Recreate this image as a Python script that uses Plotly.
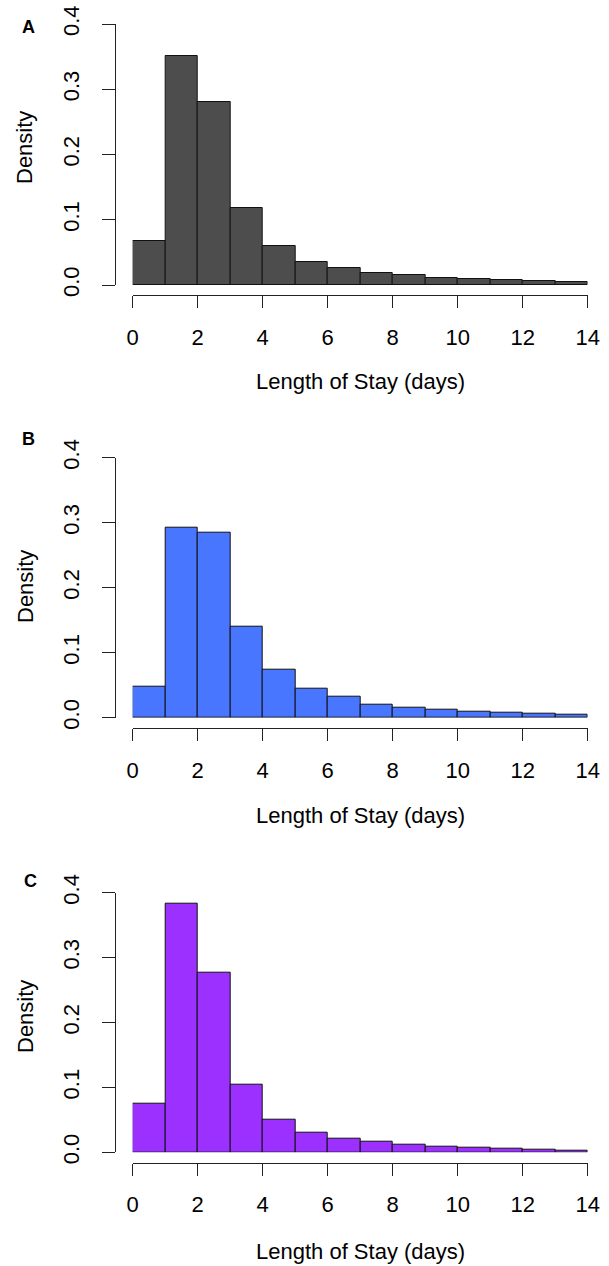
import plotly.graph_objects as go

# ---- data (density per 1-day bin, Length of Stay 0..14 days) ----
bin_edges = list(range(0, 15))
density_a = [0.067, 0.351, 0.280, 0.118, 0.060, 0.036, 0.0255, 0.019, 0.0148, 0.0112, 0.0092, 0.0072, 0.0056, 0.0046]
density_b = [0.047, 0.293, 0.284, 0.140, 0.0734, 0.0452, 0.0318, 0.0206, 0.016, 0.0123, 0.0098, 0.0072, 0.0057, 0.0046]
density_c = [0.0755, 0.383, 0.2763, 0.1037, 0.0508, 0.0297, 0.0205, 0.0159, 0.0117, 0.0092, 0.0077, 0.0056, 0.0046, 0.0031]
panel_labels = ["A", "B", "C"]
x_ticks = [0, 2, 4, 6, 8, 10, 12, 14]
y_ticks = [0.0, 0.1, 0.2, 0.3, 0.4]
x_title = "Length of Stay (days)"
y_title = "Density"
colors = ["#4D4D4D", "#4876FF", "#9B30FF"]

W, H = 609, 1266
FONT = "Liberation Sans, Arial, sans-serif"
AXC = "#222222"

# layout geometry in pixels (per panel): y pixel of 0.0, y pixel of 0.4, x-axis line y
panels_px = [
    dict(y0=285.0, y4=24.0, xline=295.4, dens_y=148, xt_y=382, lab=(28, 27)),
    dict(y0=717.7, y4=457.7, xline=728.1, dens_y=587, xt_y=815, lab=(28, 439)),
    dict(y0=1152.3, y4=892.7, xline=1162.7, dens_y=1017, xt_y=1251, lab=(30, 881)),
]
x_left_px, x_right_px = 132.7, 587.7   # pixel of x=0 and x=14
yaxis_x_px = 114.5


def fx(px):
    return px / W


def fy(py):
    return 1 - py / H


fig = go.Figure()
mids = [(bin_edges[i] + bin_edges[i + 1]) / 2 for i in range(len(bin_edges) - 1)]
widths = [bin_edges[i + 1] - bin_edges[i] for i in range(len(bin_edges) - 1)]
all_dens = [density_a, density_b, density_c]

annotations = []
for i, (dens, col, geo) in enumerate(zip(all_dens, colors, panels_px)):
    k = "" if i == 0 else str(i + 1)
    fig.add_trace(go.Bar(
        x=mids, y=dens, width=widths,
        marker=dict(color=col, line=dict(color="#111111", width=1)),
        xaxis="x" + k, yaxis="y" + k, showlegend=False, cliponaxis=False,
        hoverinfo="skip",
    ))
    fig.update_layout(**{
        "xaxis" + k: dict(
            domain=[fx(x_left_px), fx(x_right_px)], range=[bin_edges[0], bin_edges[-1]],
            anchor="free", position=fy(geo["xline"]), automargin=False,
            showline=True, linecolor=AXC, linewidth=1,
            ticks="outside", ticklen=12, tickwidth=1, tickcolor=AXC,
            tickvals=x_ticks, ticktext=[str(t) for t in x_ticks],
            tickfont=dict(family=FONT, size=22, color="black"),
            ticklabelstandoff=10,
            showgrid=False, zeroline=False, fixedrange=True,
        ),
        "yaxis" + k: dict(
            domain=[fy(geo["y0"]), fy(geo["y4"])], range=[y_ticks[0], y_ticks[-1]],
            anchor="free", position=fx(yaxis_x_px), automargin=False,
            showline=True, linecolor=AXC, linewidth=1,
            ticks="outside", ticklen=13, tickwidth=1, tickcolor=AXC,
            tickvals=y_ticks, ticktext=[f"{t:.1f}" for t in y_ticks],
            tickangle=-90,
            tickfont=dict(family=FONT, size=22, color="black"),
            ticklabelstandoff=14,
            showgrid=False, zeroline=False, fixedrange=True,
        ),
    })
    annotations.append(dict(
        text=y_title, x=fx(25), y=fy(geo["dens_y"]), xref="paper", yref="paper",
        textangle=-90, showarrow=False, xanchor="center", yanchor="middle",
        font=dict(family=FONT, size=22, color="black"),
    ))
    annotations.append(dict(
        text=x_title, x=fx((yaxis_x_px + 605.9) / 2), y=fy(geo["xt_y"]), xref="paper", yref="paper",
        showarrow=False, xanchor="center", yanchor="middle",
        font=dict(family=FONT, size=22, color="black"),
    ))
    annotations.append(dict(
        text="<b>" + panel_labels[i] + "</b>", x=fx(geo["lab"][0]), y=fy(geo["lab"][1]),
        xref="paper", yref="paper", showarrow=False, xanchor="center", yanchor="middle",
        font=dict(family=FONT, size=18, color="black"),
    ))

fig.update_layout(
    width=W, height=H,
    margin=dict(l=0, r=0, t=0, b=0, autoexpand=False),
    paper_bgcolor="white", plot_bgcolor="white",
    bargap=0, showlegend=False,
    annotations=annotations,
)

fig.write_html("out.html")
